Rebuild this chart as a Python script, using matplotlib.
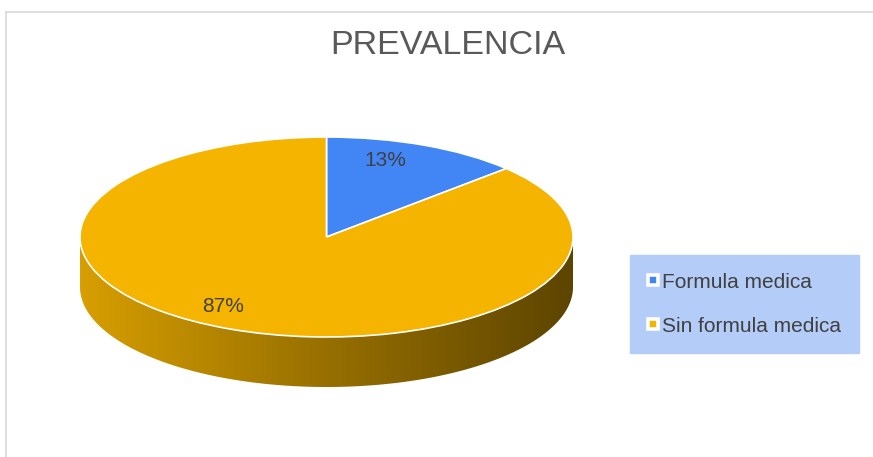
import matplotlib.pyplot as plt
import numpy as np
from matplotlib.colors import LinearSegmentedColormap, to_rgb
from matplotlib.patches import Polygon
from matplotlib.lines import Line2D

plt.rcParams['font.family'] = ['Liberation Sans', 'DejaVu Sans']

labels = ['Formula medica', 'Sin formula medica']
values = [13, 87]
colors = ['#4285f4', '#f4b400']
depth = 0.5  # thickness of the 3d side, in units of the vertical radius

fig = plt.figure(figsize=(8.73, 4.57), dpi=100)

# pie box: top ellipse from x 80..573 px, y 137..337 px, side down to 387 px
ax = fig.add_axes([80 / 873, (457 - 387) / 457, 493 / 873, 250 / 457])
wedges, texts, autotexts = ax.pie(values, colors=colors, startangle=90,
                                  counterclock=False, autopct='%1.0f%%',
                                  wedgeprops=dict(edgecolor='white', linewidth=1.2),
                                  textprops=dict(color='#404040', fontsize=15))
ax.set_aspect('auto')
ax.axis('off')

# label spots
autotexts[0].set_position((0.24, 0.76))
autotexts[1].set_position((-0.42, -0.70))

# side of the pie, only the front half (180..360 deg) shows
for w, c in zip(wedges, colors):
    t1, t2 = w.theta1, w.theta2
    for k in (-1, 0, 1):
        a = max(t1, 180 + 360 * k)
        b = min(t2, 360 + 360 * k)
        if b <= a:
            continue
        th = np.radians(np.linspace(a, b, 200))
        xs = np.cos(th)
        ys = np.sin(th)
        pts = np.concatenate([np.column_stack([xs, ys]),
                              np.column_stack([xs[::-1], ys[::-1] - depth])])
        poly = Polygon(pts, closed=True, facecolor='none', edgecolor='none',
                       transform=ax.transData)
        ax.add_patch(poly)
        base = np.array(to_rgb(c))
        cmap = LinearSegmentedColormap.from_list('side', [base * 0.88, base * 0.62, base * 0.38])
        grad = np.linspace(0, 1, 256).reshape(1, -1)
        im = ax.imshow(grad, cmap=cmap, extent=(-1, 1, -1 - depth, 0),
                       aspect='auto', zorder=0)
        im.set_clip_path(poly)

ax.set_xlim(-1, 1)
ax.set_ylim(-1 - depth, 1)

# title
fig.text(448 / 873, 1 - 46 / 457, 'PREVALENCIA', ha='center', va='center',
         fontsize=24.5, color='#595959')

# legend
handles = [Line2D([], [], linestyle='none', marker='s', markersize=7,
                  markerfacecolor=c, markeredgecolor='white', markeredgewidth=2.6)
           for c in colors]
leg = fig.legend(handles, labels, loc='upper left',
                 bbox_to_anchor=(630 / 873, 1 - 255 / 457),
                 frameon=True, fancybox=False, fontsize=15,
                 labelcolor='#404040', handlelength=0.55, handletextpad=0.15,
                 labelspacing=1.2, borderpad=0.85, borderaxespad=0)
frame = leg.get_frame()
frame.set_facecolor('#b4cdf8')
frame.set_edgecolor('#b4cdf8')
frame.set_alpha(1)

# thin outer border of the chart area (left and top)
fig.add_artist(Line2D([6 / 873, 6 / 873], [0, 1 - 12 / 457], color='#d9d9d9', lw=1.2))
fig.add_artist(Line2D([6 / 873, 1], [1 - 12 / 457, 1 - 12 / 457], color='#d9d9d9', lw=1.2))

fig.savefig('out.png', dpi=100)
